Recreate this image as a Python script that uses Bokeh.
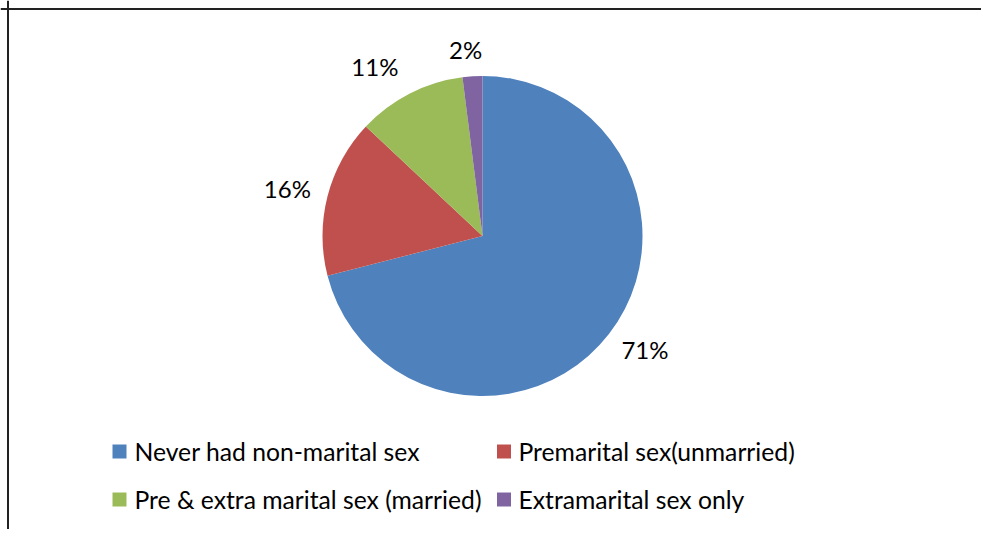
import numpy as np
from bokeh.plotting import figure
from bokeh.models import Range1d, Span, ColumnDataSource
from bokeh.core.properties import value
from bokeh.embed import file_html
from bokeh.resources import INLINE

# ---- data ----
categories = [
    "Never had non-marital sex",
    "Premarital sex(unmarried)",
    "Pre & extra marital sex (married)",
    "Extramarital sex only",
]
shares = [71, 16, 11, 2]
labels = ["71%", "16%", "11%", "2%"]
colors = ["#4F81BD", "#C0504D", "#9BBB59", "#8064A2"]

# ---- figure (1 data unit = 1 screen pixel) ----
W, H = 981, 529
p = figure(width=W, height=H, x_range=Range1d(0, W), y_range=Range1d(0, H),
           output_backend="svg", toolbar_location=None,
           x_axis_type=None, y_axis_type=None, min_border=0)
p.grid.visible = False
p.outline_line_color = None
p.background_fill_color = "white"
p.border_fill_color = "white"


def X(px):
    return px


def Y(py):
    return H - py


FONT = value("Lato")

# frame (top and left edges visible in the reference)
p.add_layout(Span(location=Y(8.5), dimension="width", line_color="#222222", line_width=2))
p.add_layout(Span(location=X(7.5), dimension="height", line_color="#222222", line_width=2))

# ---- pie ----
cx, cy, r = X(482), Y(235.5), 160
frac = np.array(shares, dtype=float) / sum(shares)
cum = np.concatenate([[0.0], np.cumsum(frac)])
start = np.pi / 2 - 2 * np.pi * cum[1:]
end = np.pi / 2 - 2 * np.pi * cum[:-1]
src = ColumnDataSource(dict(start=start, end=end, color=colors))
p.wedge(x=cx, y=cy, radius=r, start_angle="start", end_angle="end",
        fill_color="color", line_color=None, direction="anticlock", source=src)

# ---- data labels ----
mid = 2 * np.pi * (cum[:-1] + frac / 2)  # clockwise from top
gap = 12
lx = cx + (r + gap) * np.sin(mid)
ly = cy + (r + gap) * np.cos(mid)
aligns = ["left" if s > 0.3 else ("right" if s < -0.3 else "center") for s in np.sin(mid)]
bases = ["top" if c < -0.3 else ("bottom" if c > 0.3 else "middle") for c in np.cos(mid)]
# fine nudges (screen px) to mimic the spreadsheet's best-fit label placement
nudge_x = [3, -5, -6, -6]
nudge_y = [-6, -5, -2, 0]
lsrc = ColumnDataSource(dict(x=lx, y=ly, t=labels, a=aligns, b=bases, ox=nudge_x, oy=nudge_y))
p.text(x="x", y="y", text="t", text_align="a", text_baseline="b", source=lsrc,
       x_offset="ox", y_offset="oy",
       text_font=FONT, text_font_size="24px", text_color="black")

# ---- legend (2 columns x 2 rows) ----
col_sq = [X(119), X(503.5)]
col_tx = [X(134), X(518)]
row_y = [Y(451), Y(499)]
sq_x, sq_y, tx_x, tx_y = [], [], [], []
for i in range(len(categories)):
    c, rr = i % 2, i // 2
    sq_x.append(col_sq[c]); sq_y.append(row_y[rr])
    tx_x.append(col_tx[c]); tx_y.append(row_y[rr])
gsrc = ColumnDataSource(dict(sx=sq_x, sy=sq_y, tx=tx_x, ty=tx_y, name=categories, color=colors))
p.rect(x="sx", y="sy", width=14, height=14, fill_color="color", line_color=None, source=gsrc)
p.text(x="tx", y="ty", text="name", text_align="left", text_baseline="middle", source=gsrc,
       text_font=FONT, text_font_size="24.7px", text_color="black")

open("out.html", "w").write(file_html(p, INLINE))
